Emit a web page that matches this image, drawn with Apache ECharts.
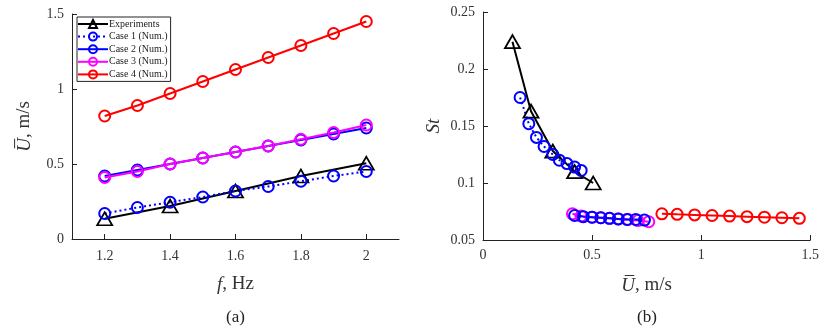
<!DOCTYPE html>
<html>
<head>
<meta charset="utf-8">
<script src="https://cdn.jsdelivr.net/npm/echarts@6.0.0/dist/echarts.min.js"></script>
<style>
  html, body { margin: 0; padding: 0; background: #fff; }
  #chart { width: 822px; height: 334px; }
</style>
</head>
<body>
<div id="chart"></div>
<script>
// (a) mean speed vs flapping frequency
const freqNum = [1.2, 1.3, 1.4, 1.5, 1.6, 1.7, 1.8, 1.9, 2.0];
const freqExp = [1.2, 1.4, 1.6, 1.8, 2.0];
const uExp   = [0.135, 0.22, 0.32, 0.42, 0.505];
const uCase1 = [0.17, 0.21, 0.245, 0.28, 0.32, 0.35, 0.385, 0.42, 0.45];
const uCase2 = [0.42, 0.46, 0.50, 0.54, 0.58, 0.62, 0.66, 0.70, 0.74];
const uCase3 = [0.41, 0.45, 0.50, 0.54, 0.58, 0.62, 0.665, 0.71, 0.76];
const uCase4 = [0.82, 0.89, 0.97, 1.05, 1.13, 1.21, 1.29, 1.37, 1.45];

// (b) Strouhal number vs mean speed
const stExp   = [0.224, 0.163, 0.128, 0.11, 0.10];
const stCase1 = [0.175, 0.152, 0.140, 0.132, 0.125, 0.120, 0.117, 0.114, 0.111];
const stCase2 = [0.0715, 0.0705, 0.070, 0.0695, 0.069, 0.0685, 0.068, 0.068, 0.0675];
const stCase3 = [0.073, 0.071, 0.070, 0.0695, 0.069, 0.0685, 0.068, 0.067, 0.066];
const stCase4 = [0.073, 0.0725, 0.072, 0.0715, 0.071, 0.0705, 0.070, 0.0695, 0.069];

const names = ['Experiments', 'Case 1 (Num.)', 'Case 2 (Num.)', 'Case 3 (Num.)', 'Case 4 (Num.)'];

const serif = '"Liberation Serif", "DejaVu Serif", serif';
const zip = (a, b) => a.map((v, i) => [v, b[i]]);

const chart = echarts.init(document.getElementById('chart'), null, { renderer: 'canvas' });

function axisCommon() {
    return {
        axisLine: { show: true, lineStyle: { color: '#222', width: 1 } },
        axisTick: { show: true, inside: true, length: 5, lineStyle: { color: '#222' } },
        splitLine: { show: false },
        axisLabel: { color: '#333', fontFamily: serif, fontSize: 14 }
    };
}

function circleSeries(name, data, color, dotted, xi) {
    return {
        name: name, type: 'line', data: data,
        xAxisIndex: xi, yAxisIndex: xi,
        symbol: 'circle', symbolSize: 11,
        lineStyle: { color: color, width: 2, type: dotted ? [2, 3] : 'solid' },
        itemStyle: { color: 'rgba(255,255,255,0)', borderColor: color, borderWidth: 2 },
        emphasis: { disabled: true }
    };
}

function triSeries(data, xi) {
    return {
        name: names[0], type: 'line', data: data,
        xAxisIndex: xi, yAxisIndex: xi,
        symbol: 'triangle', symbolSize: [15, 13],
        lineStyle: { color: '#000', width: 2 },
        itemStyle: { color: 'rgba(255,255,255,0)', borderColor: '#000', borderWidth: 1.8 },
        emphasis: { disabled: true }
    };
}

const nameStyle = {
    color: '#333', fontFamily: serif, fontSize: 19,
    rich: { i: { fontStyle: 'italic', fontFamily: serif, fontSize: 19 } }
};

const option = {
    backgroundColor: '#fff',
    animation: false,
    grid: [
        { left: 72, right: 423, top: 14, bottom: 95 },
        { left: 483, right: 9, top: 12, bottom: 94 }
    ],
    xAxis: [
        Object.assign(axisCommon(), {
            type: 'value', gridIndex: 0, min: 1.1, max: 2.1,
            axisTick: { show: true, inside: true, length: 5, customValues: freqExp, lineStyle: { color: '#222' } },
            axisLabel: { color: '#333', fontFamily: serif, fontSize: 14, customValues: freqExp, margin: 10 },
            name: '{i|f}, Hz', nameLocation: 'middle', nameGap: 36,
            nameTextStyle: nameStyle
        }),
        Object.assign(axisCommon(), {
            type: 'value', gridIndex: 1, min: 0, max: 1.5, interval: 0.5,
            name: '{i|U\u0305}, m/s', nameLocation: 'middle', nameGap: 36,
            nameTextStyle: nameStyle
        })
    ],
    yAxis: [
        Object.assign(axisCommon(), {
            type: 'value', gridIndex: 0, min: 0, max: 1.5, interval: 0.5,
            name: '{i|U\u0305}, m/s', nameLocation: 'middle', nameGap: 38,
            nameTextStyle: nameStyle
        }),
        Object.assign(axisCommon(), {
            type: 'value', gridIndex: 1, min: 0.05, max: 0.25, interval: 0.05,
            name: 'St', nameLocation: 'middle', nameGap: 40,
            nameTextStyle: { color: '#333', fontFamily: serif, fontSize: 19, fontStyle: 'italic' }
        })
    ],
    legend: {
        data: names,
        orient: 'vertical', left: 77, top: 17,
        itemWidth: 30, itemHeight: 10, itemGap: 2.6,
        padding: [2, 3, 2, 0],
        borderColor: '#222', borderWidth: 1, backgroundColor: '#fff',
        textStyle: { fontFamily: serif, fontSize: 10, color: '#222', padding: [0, 0, 0, -4] },
        selectedMode: false
    },
    graphic: [
        { type: 'text', left: 226, top: 309, style: { text: '(a)', font: '17px ' + serif, fill: '#222' } },
        { type: 'text', left: 637, top: 309, style: { text: '(b)', font: '17px ' + serif, fill: '#222' } }
    ],
    series: [
        triSeries(zip(freqExp, uExp), 0),
        circleSeries(names[1], zip(freqNum, uCase1), '#0000ff', true, 0),
        circleSeries(names[2], zip(freqNum, uCase2), '#0000ff', false, 0),
        circleSeries(names[3], zip(freqNum, uCase3), '#ff00ff', false, 0),
        circleSeries(names[4], zip(freqNum, uCase4), '#ff0000', false, 0),

        triSeries(zip(uExp, stExp), 1),
        circleSeries(names[1], zip(uCase1, stCase1), '#0000ff', true, 1),
        circleSeries(names[3], zip(uCase3, stCase3), '#ff00ff', false, 1),
        circleSeries(names[2], zip(uCase2, stCase2), '#0000ff', false, 1),
        circleSeries(names[4], zip(uCase4, stCase4), '#ff0000', false, 1)
    ]
};

chart.setOption(option);
</script>
</body>
</html>
